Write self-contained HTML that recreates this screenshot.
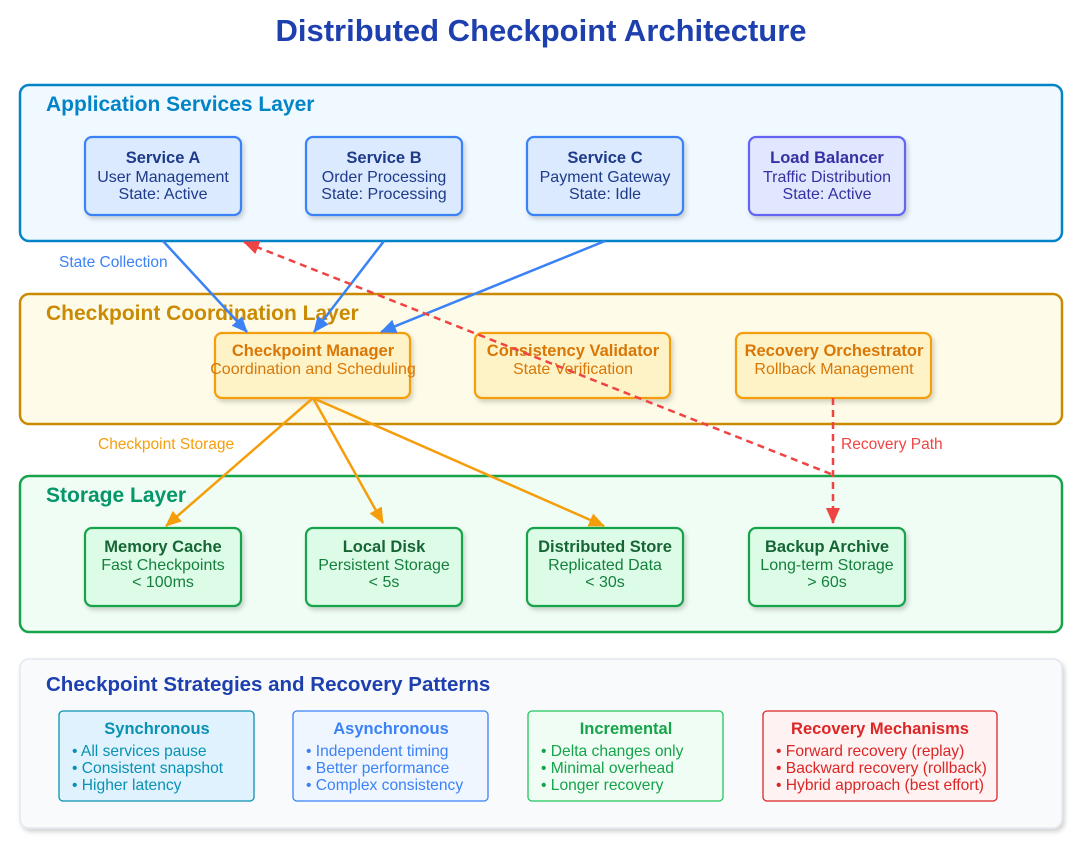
<!DOCTYPE html>
<html><head><meta charset="utf-8"><style>
html,body{margin:0;padding:0;background:#fff;}
svg{display:block;font-family:"Liberation Sans",Arial,sans-serif;}
</style></head><body>
<svg width="1078" height="847" viewBox="0 0 1078 847" xmlns="http://www.w3.org/2000/svg">
<defs>
<filter id="sh" x="-20%" y="-20%" width="140%" height="150%"><feDropShadow dx="2" dy="3" stdDeviation="2.5" flood-color="#000" flood-opacity="0.18"/></filter>
<marker id="ab" markerWidth="16" markerHeight="14" refX="15" refY="7" orient="auto" markerUnits="userSpaceOnUse" viewBox="0 0 16 14"><path d="M0,0 L16,7 L0,14 z" fill="#3b82f6"/></marker>
<marker id="ao" markerWidth="16" markerHeight="14" refX="15" refY="7" orient="auto" markerUnits="userSpaceOnUse" viewBox="0 0 16 14"><path d="M0,0 L16,7 L0,14 z" fill="#f59e0b"/></marker>
<marker id="ar" markerWidth="16" markerHeight="14" refX="15" refY="7" orient="auto" markerUnits="userSpaceOnUse" viewBox="0 0 16 14"><path d="M0,0 L16,7 L0,14 z" fill="#ef4444"/></marker>
</defs>
<text x="541" y="41" text-anchor="middle" font-size="31" font-weight="bold" fill="#1e40af">Distributed Checkpoint Architecture</text>

<rect x="20" y="85" width="1042" height="156" rx="9" fill="#f0f9ff" stroke="#0284c7" stroke-width="2.5"/>
<text x="46" y="111" font-size="21" font-weight="bold" fill="#0284c7">Application Services Layer</text>
<g font-size="16" text-anchor="middle">
<rect x="85" y="137" width="156" height="78" rx="7" fill="#dbeafe" stroke="#3b82f6" stroke-width="2.2" filter="url(#sh)"/>
<text x="163" y="163" font-size="16.5" font-weight="bold" fill="#1e3a8a">Service A</text>
<text x="163" y="182" fill="#1e3a8a">User Management</text><text x="163" y="199" fill="#1e3a8a">State: Active</text>
<rect x="306" y="137" width="156" height="78" rx="7" fill="#dbeafe" stroke="#3b82f6" stroke-width="2.2" filter="url(#sh)"/>
<text x="384" y="163" font-size="16.5" font-weight="bold" fill="#1e3a8a">Service B</text>
<text x="384" y="182" fill="#1e3a8a">Order Processing</text><text x="384" y="199" fill="#1e3a8a">State: Processing</text>
<rect x="527" y="137" width="156" height="78" rx="7" fill="#dbeafe" stroke="#3b82f6" stroke-width="2.2" filter="url(#sh)"/>
<text x="605" y="163" font-size="16.5" font-weight="bold" fill="#1e3a8a">Service C</text>
<text x="605" y="182" fill="#1e3a8a">Payment Gateway</text><text x="605" y="199" fill="#1e3a8a">State: Idle</text>
<rect x="749" y="137" width="156" height="78" rx="7" fill="#e0e7ff" stroke="#6366f1" stroke-width="2.2" filter="url(#sh)"/>
<text x="827" y="163" font-size="16.5" font-weight="bold" fill="#3730a3">Load Balancer</text>
<text x="827" y="182" fill="#3730a3">Traffic Distribution</text><text x="827" y="199" fill="#3730a3">State: Active</text>
</g>

<rect x="20" y="294" width="1042" height="130" rx="9" fill="#fefce8" stroke="#ca8a04" stroke-width="2.5"/>
<text x="46" y="320" font-size="21" font-weight="bold" fill="#ca8a04">Checkpoint Coordination Layer</text>
<g font-size="16" text-anchor="middle" fill="#d97706">
<rect x="215" y="333" width="195" height="65" rx="7" fill="#fef3c7" stroke="#f59e0b" stroke-width="2.2" filter="url(#sh)"/>
<text x="313" y="356" font-size="16.5" font-weight="bold">Checkpoint Manager</text><text x="313" y="374">Coordination and Scheduling</text>
<rect x="475" y="333" width="195" height="65" rx="7" fill="#fef3c7" stroke="#f59e0b" stroke-width="2.2" filter="url(#sh)"/>
<text x="573" y="356" font-size="16.5" font-weight="bold">Consistency Validator</text><text x="573" y="374">State Verification</text>
<rect x="736" y="333" width="195" height="65" rx="7" fill="#fef3c7" stroke="#f59e0b" stroke-width="2.2" filter="url(#sh)"/>
<text x="834" y="356" font-size="16.5" font-weight="bold">Recovery Orchestrator</text><text x="834" y="374">Rollback Management</text>
</g>

<rect x="20" y="476" width="1042" height="156" rx="9" fill="#f0fdf4" stroke="#16a34a" stroke-width="2.5"/>
<text x="46" y="502" font-size="21" font-weight="bold" fill="#059669">Storage Layer</text>
<g font-size="16" text-anchor="middle" fill="#15803d">
<rect x="85" y="528" width="156" height="78" rx="7" fill="#dcfce7" stroke="#16a34a" stroke-width="2.2" filter="url(#sh)"/>
<text x="163" y="552" font-size="16.5" font-weight="bold" fill="#166534">Memory Cache</text><text x="163" y="570">Fast Checkpoints</text><text x="163" y="587">&lt; 100ms</text>
<rect x="306" y="528" width="156" height="78" rx="7" fill="#dcfce7" stroke="#16a34a" stroke-width="2.2" filter="url(#sh)"/>
<text x="384" y="552" font-size="16.5" font-weight="bold" fill="#166534">Local Disk</text><text x="384" y="570">Persistent Storage</text><text x="384" y="587">&lt; 5s</text>
<rect x="527" y="528" width="156" height="78" rx="7" fill="#dcfce7" stroke="#16a34a" stroke-width="2.2" filter="url(#sh)"/>
<text x="605" y="552" font-size="16.5" font-weight="bold" fill="#166534">Distributed Store</text><text x="605" y="570">Replicated Data</text><text x="605" y="587">&lt; 30s</text>
<rect x="749" y="528" width="156" height="78" rx="7" fill="#dcfce7" stroke="#16a34a" stroke-width="2.2" filter="url(#sh)"/>
<text x="827" y="552" font-size="16.5" font-weight="bold" fill="#166534">Backup Archive</text><text x="827" y="570">Long-term Storage</text><text x="827" y="587">&gt; 60s</text>
</g>

<rect x="20" y="659" width="1042" height="169" rx="9" fill="#f8fafc" stroke="#e2e8f0" stroke-width="1.5" filter="url(#sh)"/>
<text x="46" y="691" font-size="20.5" font-weight="bold" fill="#1e40af">Checkpoint Strategies and Recovery Patterns</text>
<g font-size="15.6">
<rect x="59" y="711" width="195" height="90" rx="4" fill="#e0f2fe" stroke="#0891b2" stroke-width="1.3"/>
<text x="157" y="734" text-anchor="middle" font-size="16.5" font-weight="bold" fill="#0891b2">Synchronous</text>
<g fill="#0891b2"><text x="72" y="756">• All services pause</text><text x="72" y="773">• Consistent snapshot</text><text x="72" y="790">• Higher latency</text></g>
<rect x="293" y="711" width="195" height="90" rx="4" fill="#eff6ff" stroke="#3b82f6" stroke-width="1.3"/>
<text x="391" y="734" text-anchor="middle" font-size="16.5" font-weight="bold" fill="#3b82f6">Asynchronous</text>
<g fill="#3b82f6"><text x="306" y="756">• Independent timing</text><text x="306" y="773">• Better performance</text><text x="306" y="790">• Complex consistency</text></g>
<rect x="528" y="711" width="195" height="90" rx="4" fill="#f0fdf4" stroke="#22c55e" stroke-width="1.3"/>
<text x="626" y="734" text-anchor="middle" font-size="16.5" font-weight="bold" fill="#16a34a">Incremental</text>
<g fill="#16a34a"><text x="541" y="756">• Delta changes only</text><text x="541" y="773">• Minimal overhead</text><text x="541" y="790">• Longer recovery</text></g>
<rect x="763" y="711" width="234" height="90" rx="4" fill="#fef2f2" stroke="#dc2626" stroke-width="1.3"/>
<text x="880" y="734" text-anchor="middle" font-size="16.5" font-weight="bold" fill="#dc2626">Recovery Mechanisms</text>
<g fill="#dc2626"><text x="776" y="756">• Forward recovery (replay)</text><text x="776" y="773">• Backward recovery (rollback)</text><text x="776" y="790">• Hybrid approach (best effort)</text></g>
</g>

<g stroke-width="2.5" fill="none">
<line x1="163" y1="241" x2="247" y2="332" stroke="#3b82f6" marker-end="url(#ab)"/>
<line x1="384" y1="241" x2="314" y2="332" stroke="#3b82f6" marker-end="url(#ab)"/>
<line x1="605" y1="241" x2="381" y2="332" stroke="#3b82f6" marker-end="url(#ab)"/>
<line x1="313" y1="398" x2="166" y2="526" stroke="#f59e0b" marker-end="url(#ao)"/>
<line x1="313" y1="398" x2="383" y2="523" stroke="#f59e0b" marker-end="url(#ao)"/>
<line x1="313" y1="398" x2="604" y2="526" stroke="#f59e0b" marker-end="url(#ao)"/>
<line x1="833" y1="398" x2="833" y2="523" stroke="#ef4444" stroke-dasharray="7,5" marker-end="url(#ar)"/>
<line x1="831" y1="474" x2="244" y2="242" stroke="#ef4444" stroke-dasharray="7,5" marker-end="url(#ar)"/>
</g>
<text x="59" y="267" font-size="15.5" fill="#3b82f6">State Collection</text>
<text x="98" y="449" font-size="15.5" fill="#f59e0b">Checkpoint Storage</text>
<text x="841" y="449" font-size="15.5" fill="#ef4444">Recovery Path</text>
</svg>
</body></html>
